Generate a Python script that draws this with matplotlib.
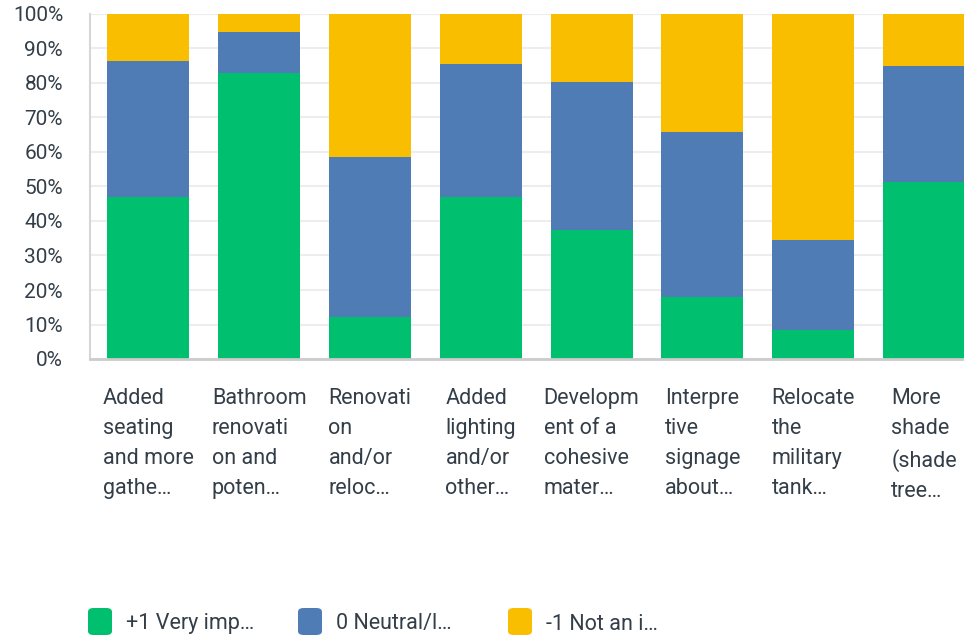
import numpy as np
import matplotlib
matplotlib.use('Agg')
from matplotlib import pyplot as plt
from matplotlib.patches import FancyBboxPatch

plt.rcParams['font.family'] = ['Roboto', 'DejaVu Sans']

categories = ['Added\nseating\nand more\ngathe…',
              'Bathroom\nrenovati\non and\npoten…',
              'Renovati\non\nand/or\nreloc…',
              'Added\nlighting\nand/or\nother…',
              'Developm\nent of a\ncohesive\nmater…',
              'Interpre\ntive\nsignage\nabout…',
              'Relocate\nthe\nmilitary\ntank…',
              'More\nshade\n(shade\ntree…']
very_important = [47.0, 82.9, 12.2, 47.0, 37.5, 18.0, 8.5, 51.4]
neutral = [39.4, 11.9, 46.4, 38.5, 42.9, 47.8, 26.1, 33.5]
not_important = [13.6, 5.2, 41.4, 14.5, 19.6, 34.2, 65.4, 15.1]
series_labels = ['+1 Very imp…', '0 Neutral/l…', '-1 Not an i…']
colors = ['#00BF6F', '#507CB6', '#F9BE00']
text_color = '#333E48'

fig = plt.figure(figsize=(9.64, 6.36), dpi=100)
ax = fig.add_axes([89.5/964, 277/636, 890/964, 345/636])

x = np.arange(len(categories))
w = 0.74
g = np.array(very_important)
n = np.array(neutral)
y = np.array(not_important)
ax.bar(x, g, w, color=colors[0], zorder=2)
ax.bar(x, n, w, bottom=g, color=colors[1], zorder=2)
ax.bar(x, y, w, bottom=g + n, color=colors[2], zorder=2)

ax.set_xlim(-0.53, 7.5)
ax.set_ylim(0, 100)
ax.set_yticks(np.arange(0, 101, 10))
ax.set_yticklabels(['%d%%' % v for v in range(0, 101, 10)])
ax.tick_params(axis='y', length=0, pad=19, labelsize=15, labelcolor=text_color)
ax.set_xticks([])
ax.yaxis.grid(True, color='#EDEDED', linewidth=1.5, zorder=0)
ax.set_axisbelow(True)
for s in ['top', 'right']:
    ax.spines[s].set_visible(False)
ax.spines['left'].set_color('#D6D6D6')
ax.spines['left'].set_linewidth(1.5)
ax.spines['bottom'].set_color('#CCCCCC')
ax.spines['bottom'].set_linewidth(2)

# category labels: block centred under the bar, lines left-aligned
for i, lab in enumerate(categories):
    ax.annotate(lab, xy=(i, 0), xycoords=('data', 'axes fraction'),
                xytext=(0, -29), textcoords='offset pixels',
                ha='center', va='top', multialignment='left',
                fontsize=15.5, color=text_color,
                linespacing=1.56, annotation_clip=False)

# legend along the bottom
for k, lab in enumerate(series_labels):
    x0 = 88 + k * 210
    box = FancyBboxPatch((x0 / 964, 1 / 636), 24 / 964, 27 / 636,
                         boxstyle='round,pad=0,rounding_size=0.006',
                         transform=fig.transFigure, facecolor=colors[k],
                         edgecolor='none')
    fig.add_artist(box)
    fig.text((x0 + 38) / 964, 12 / 636, lab, ha='left', va='center',
             fontsize=15.5, color=text_color)

fig.savefig('out.png', dpi=100)
